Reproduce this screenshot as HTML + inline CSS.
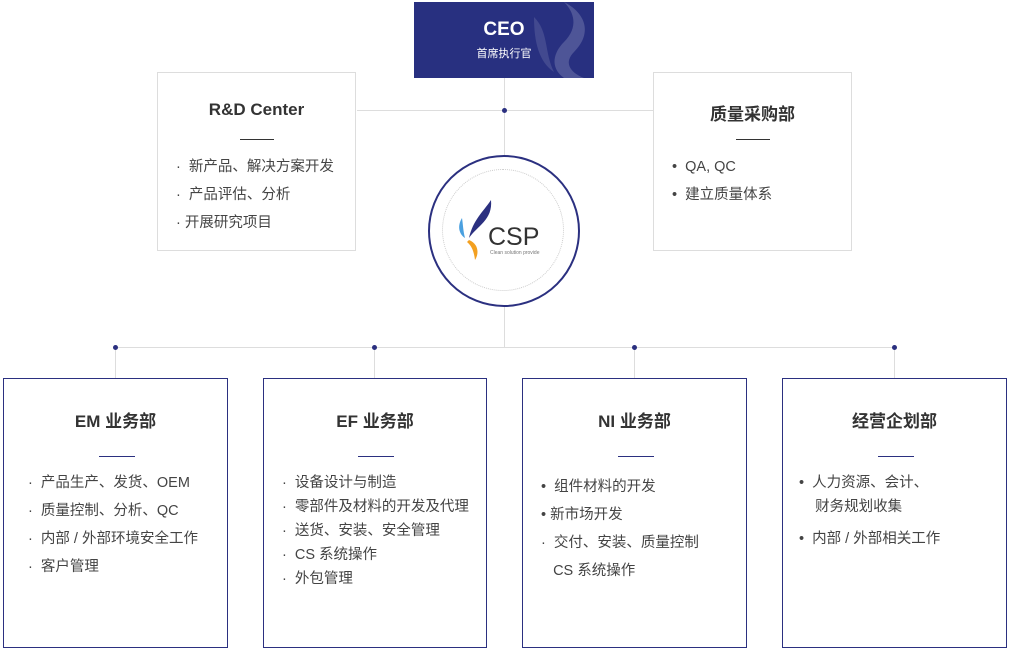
<!DOCTYPE html>
<html><head><meta charset="utf-8"><style>
body{margin:0;width:1010px;height:650px;background:#fff;position:relative;overflow:hidden;font-family:"Liberation Sans","Noto Sans CJK SC",sans-serif;color:#333}
.a{position:absolute}
.box{position:absolute;box-sizing:border-box;background:#fff}
.t{position:absolute;left:0;right:0;text-align:center;font-size:17px;font-weight:bold;color:#333}
.d{position:absolute;height:1px;background:#2b3080;width:36px}
.l{position:absolute;font-size:14.5px;line-height:28px;color:#444;white-space:nowrap}
.dot{position:absolute;width:5px;height:5px;border-radius:50%;background:#2b3080}
.h{position:absolute;height:1px;background:#ddd}
.v{position:absolute;width:1px;background:#ddd}
</style></head><body>
<div class="h" style="left:357px;top:110px;width:296px"></div>
<div class="v" style="left:504px;top:78px;height:78px"></div>
<div class="dot" style="left:502px;top:108px"></div>
<div class="v" style="left:504px;top:306px;height:41px"></div>
<div class="h" style="left:115px;top:347px;width:780px"></div>
<div class="v" style="left:115px;top:347px;height:31px"></div>
<div class="v" style="left:374px;top:347px;height:31px"></div>
<div class="v" style="left:634px;top:347px;height:31px"></div>
<div class="v" style="left:894px;top:347px;height:31px"></div>
<div class="dot" style="left:113px;top:345px"></div>
<div class="dot" style="left:372px;top:345px"></div>
<div class="dot" style="left:632px;top:345px"></div>
<div class="dot" style="left:892px;top:345px"></div>

<div class="box" style="left:414px;top:2px;width:180px;height:76px;background:#283080;overflow:hidden">
<svg class="a" style="left:110px;top:0" width="70" height="76"><path d="M40 0 C60 10 70 30 50 50 C40 60 45 70 60 76 L40 76 C25 65 30 50 40 40 C55 25 50 10 40 0Z" fill="#fff" opacity="0.18"/><path d="M10 15 C25 30 20 50 30 70 C15 60 10 40 10 15Z" fill="#fff" opacity="0.12"/></svg>
<div class="a" style="left:0;right:0;top:17px;text-align:center;color:#fff;font-size:19px;font-weight:bold">CEO</div>
<div class="a" style="left:0;right:0;top:43px;text-align:center;color:#fff;font-size:11px">首席执行官</div>
</div>

<div class="box" style="left:157px;top:72px;width:199px;height:179px;border:1px solid #ddd">
<div class="t" style="top:27px">R&amp;D Center</div>
<div class="d" style="left:82px;top:66px;width:34px;background:#333"></div>
<div class="l" style="left:18px;top:80px">·&nbsp; 新产品、解决方案开发<br>·&nbsp; 产品评估、分析<br>· 开展研究项目</div>
</div>
<div class="box" style="left:653px;top:72px;width:199px;height:179px;border:1px solid #ddd">
<div class="t" style="top:27px">质量采购部</div>
<div class="d" style="left:82px;top:66px;width:34px;background:#333"></div>
<div class="l" style="left:18px;top:80px">•&nbsp; QA, QC<br>•&nbsp; 建立质量体系</div>
</div>

<div class="a" style="left:428px;top:155px;width:148px;height:148px;border:2px solid #2b3080;border-radius:50%;background:#fff"></div>
<div class="a" style="left:442px;top:169px;width:120px;height:120px;border:1px dotted #ccc;border-radius:50%"></div>
<svg class="a" style="left:455px;top:198px" width="40" height="64"><path d="M36 2 C38 22 22 28 14 40 C18 22 28 14 36 2Z" fill="#2b3080"/><path d="M7 20 C2 28 4 36 10 40 C8 32 8 26 7 20Z" fill="#4aa0e0"/><path d="M14 42 C24 46 24 56 20 62 C19 54 17 48 12 44Z" fill="#f3a020"/></svg>
<div class="a" style="left:488px;top:223px;font-size:25px;color:#333">CSP</div>
<div class="a" style="left:490px;top:250px;font-size:5px;color:#777">Clean solution provide</div>

<div class="box" style="left:3px;top:378px;width:225px;height:270px;border:1px solid #2b3080">
<div class="t" style="top:28px">EM 业务部</div>
<div class="d" style="left:95px;top:77px"></div>
<div class="l" style="left:24px;top:90px">·&nbsp; 产品生产、发货、OEM<br>·&nbsp; 质量控制、分析、QC<br>·&nbsp; 内部 / 外部环境安全工作<br>·&nbsp; 客户管理</div>
</div>
<div class="box" style="left:263px;top:378px;width:224px;height:270px;border:1px solid #2b3080">
<div class="t" style="top:28px">EF 业务部</div>
<div class="d" style="left:94px;top:77px"></div>
<div class="l" style="left:18px;top:92px;line-height:24px">·&nbsp; 设备设计与制造<br>·&nbsp; 零部件及材料的开发及代理<br>·&nbsp; 送货、安装、安全管理<br>·&nbsp; CS 系统操作<br>·&nbsp; 外包管理</div>
</div>
<div class="box" style="left:522px;top:378px;width:225px;height:270px;border:1px solid #2b3080">
<div class="t" style="top:28px">NI 业务部</div>
<div class="d" style="left:95px;top:77px"></div>
<div class="l" style="left:18px;top:94px">•&nbsp; 组件材料的开发<br>• 新市场开发<br>·&nbsp; 交付、安装、质量控制<br>&nbsp;&nbsp;&nbsp;CS 系统操作</div>
</div>
<div class="box" style="left:782px;top:378px;width:225px;height:270px;border:1px solid #2b3080">
<div class="t" style="top:28px">经营企划部</div>
<div class="d" style="left:95px;top:77px"></div>
<div class="l" style="left:16px;top:92px;line-height:24px">•&nbsp; 人力资源、会计、<br>&nbsp;&nbsp;&nbsp;&nbsp;财务规划收集<br><span style="line-height:40px">•&nbsp; 内部 / 外部相关工作</span></div>
</div>
</body></html>
